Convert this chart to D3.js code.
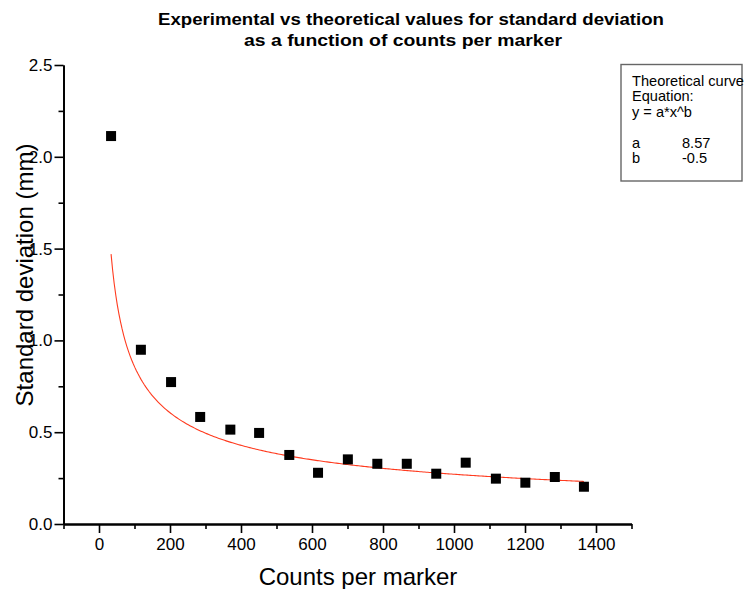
<!DOCTYPE html>
<html>
<head>
<meta charset="utf-8">
<script src="https://cdn.jsdelivr.net/npm/d3@7/dist/d3.min.js"></script>
<style>
  html, body { margin: 0; padding: 0; background: #fff; }
  svg { display: block; font-family: "Liberation Sans", Arial, sans-serif; }
</style>
</head>
<body>
<svg id="chart" width="748" height="589"></svg>
<script>
// Measured standard deviation against counts per marker
const counts = [34, 118, 203, 285, 370, 451, 536, 617, 701, 784, 867, 950, 1033, 1118, 1201, 1284, 1366];
const stdDev = [2.113, 0.949, 0.773, 0.583, 0.514, 0.496, 0.376, 0.279, 0.352, 0.328, 0.328, 0.274, 0.334, 0.247, 0.225, 0.256, 0.203];

// Theoretical curve parameters, y = a * x^b
const paramA = 8.57;
const paramB = -0.5;

const xMajorTicks = [0, 200, 400, 600, 800, 1000, 1200, 1400];
const xMinorTicks = [-100, 100, 300, 500, 700, 900, 1100, 1300, 1500];
const yMajorTicks = [0, 0.5, 1.0, 1.5, 2.0, 2.5];
const yMinorTicks = [0.25, 0.75, 1.25, 1.75, 2.25];

const legendLines = ["Theoretical curve", "Equation:", "y = a*x^b"];
const legendParams = [["a", "8.57"], ["b", "-0.5"]];

const svg = d3.select("#chart");

const x = d3.scaleLinear().domain([-100, 1500]).range([63.5, 631.5]);
const y = d3.scaleLinear().domain([0, 2.5]).range([524, 65]);

const axisColor = "#000";

// X axis: minor ticks first, then labelled major ticks
const gxMinor = svg.append("g").attr("transform", "translate(0,524)")
  .call(d3.axisBottom(x).tickValues(xMinorTicks).tickSize(5).tickSizeOuter(0).tickFormat(""));
const gx = svg.append("g").attr("transform", "translate(0,524)")
  .call(d3.axisBottom(x).tickValues(xMajorTicks).tickSize(9).tickSizeOuter(0).tickPadding(5)
    .tickFormat(d3.format("d")));

// Y axis
const gyMinor = svg.append("g").attr("transform", "translate(63.5,0)")
  .call(d3.axisLeft(y).tickValues(yMinorTicks).tickSize(5).tickSizeOuter(0).tickFormat(""));
const gy = svg.append("g").attr("transform", "translate(63.5,0)")
  .call(d3.axisLeft(y).tickValues(yMajorTicks).tickSize(9).tickSizeOuter(0).tickPadding(2)
    .tickFormat(d3.format(".1f")));

[gxMinor, gx, gyMinor, gy].forEach(g => {
  g.selectAll("path.domain").attr("stroke", axisColor).attr("stroke-width", 1.8);
  g.selectAll(".tick line").attr("stroke", axisColor).attr("stroke-width", 1.6);
  g.selectAll(".tick text").attr("fill", "#000").style("font-size", "17px")
    .style("font-family", "'Liberation Sans', Arial, sans-serif");
});

// Theoretical curve from the fitted parameters
const curveX = d3.range(0, 301).map(i => counts[0] + (counts[counts.length - 1] - counts[0]) * i / 300);
const curvePts = curveX.map(cx => [cx, paramA * Math.pow(cx, paramB)]);
svg.append("path")
  .datum(curvePts)
  .attr("fill", "none")
  .attr("stroke", "#ff3b1f")
  .attr("stroke-width", 1.1)
  .attr("d", d3.line().x(d => x(d[0])).y(d => y(d[1])));

// Experimental points as filled squares
const sq = 10;
svg.append("g").selectAll("rect")
  .data(counts.map((c, i) => ({ c, s: stdDev[i] })))
  .join("rect")
  .attr("x", d => x(d.c) - sq / 2)
  .attr("y", d => y(d.s) - sq / 2)
  .attr("width", sq)
  .attr("height", sq)
  .attr("fill", "#000");

// Title
svg.append("text")
  .attr("x", 411).attr("y", 25)
  .attr("text-anchor", "middle")
  .style("font-size", "17px").style("font-weight", "bold")
  .attr("textLength", 506).attr("lengthAdjust", "spacingAndGlyphs")
  .text("Experimental vs theoretical values for standard deviation");
svg.append("text")
  .attr("x", 403).attr("y", 46)
  .attr("text-anchor", "middle")
  .style("font-size", "17px").style("font-weight", "bold")
  .attr("textLength", 318).attr("lengthAdjust", "spacingAndGlyphs")
  .text("as a function of counts per marker");

// Axis titles
svg.append("text")
  .attr("x", 358).attr("y", 585)
  .attr("text-anchor", "middle")
  .style("font-size", "24px")
  .text("Counts per marker");
svg.append("text")
  .attr("transform", "translate(33,275) rotate(-90)")
  .attr("text-anchor", "middle")
  .style("font-size", "24px")
  .text("Standard deviation (mm)");

// Legend box with equation and parameters
const lg = svg.append("g");
lg.append("rect")
  .attr("x", 621).attr("y", 64.5)
  .attr("width", 121).attr("height", 116.5)
  .attr("fill", "#fff")
  .attr("stroke", "#666")
  .attr("stroke-width", 1.4);
legendLines.forEach((t, i) => {
  lg.append("text")
    .attr("x", 632).attr("y", 86 + i * 15.3)
    .style("font-size", "14.6px")
    .text(t);
});
legendParams.forEach((p, i) => {
  lg.append("text").attr("x", 632).attr("y", 148 + i * 15)
    .style("font-size", "14.6px").text(p[0]);
  lg.append("text").attr("x", 682).attr("y", 148 + i * 15)
    .style("font-size", "14.6px").text(p[1]);
});
</script>
</body>
</html>
